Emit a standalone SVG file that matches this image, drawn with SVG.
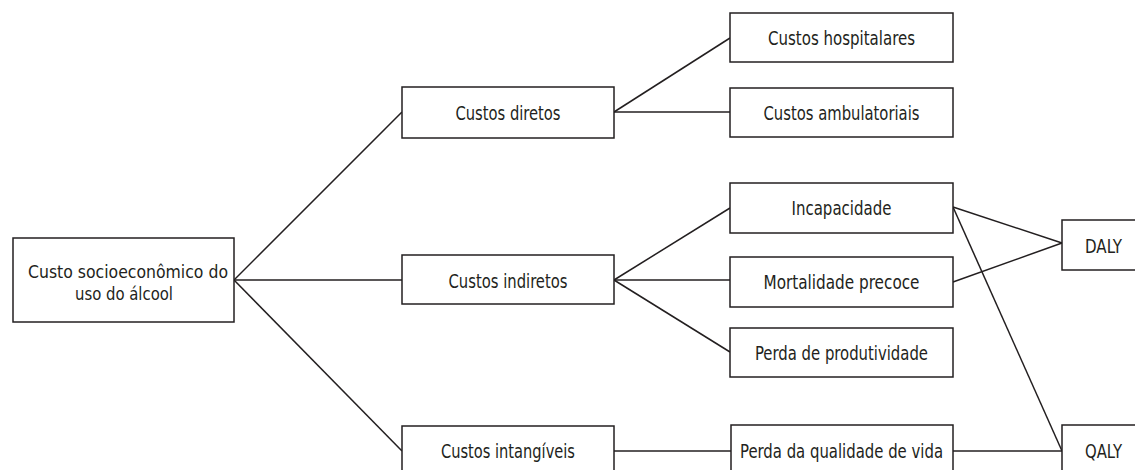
<svg xmlns="http://www.w3.org/2000/svg" width="1135" height="470" viewBox="0 0 1135 470">
<style>
.box{fill:#fff;stroke:#231f20;stroke-width:1.5}
.lbl{font-family:"Liberation Sans Narrow","DejaVu Sans Condensed","Roboto Condensed",sans-serif;font-stretch:condensed;font-size:19px;fill:#231f20;text-anchor:middle}
.big{font-size:18.5px}
.con line{stroke:#231f20;stroke-width:1.5}
</style>
<rect width="1135" height="470" fill="#fff"/>
<g class="con">
<line x1="234" y1="280" x2="402" y2="112"/>
<line x1="234" y1="280" x2="402" y2="280"/>
<line x1="234" y1="280" x2="402" y2="451"/>
<line x1="614" y1="112" x2="730" y2="38"/>
<line x1="614" y1="112" x2="730" y2="112"/>
<line x1="614" y1="280" x2="730" y2="208"/>
<line x1="614" y1="280" x2="730" y2="280"/>
<line x1="614" y1="280" x2="730" y2="352"/>
<line x1="614" y1="451" x2="731" y2="451"/>
<line x1="953" y1="207" x2="1062" y2="243"/>
<line x1="953" y1="282" x2="1062" y2="243"/>
<line x1="953" y1="207" x2="1062" y2="451"/>
<line x1="953" y1="451" x2="1062" y2="451"/>
</g>
<g id="custo-socioeconomico"><rect class="box" x="13" y="238" width="221" height="84"/><text class="lbl big" x="128" y="277.5" textLength="200" lengthAdjust="spacingAndGlyphs">Custo socioeconômico do</text><text class="lbl big" x="124" y="299.5" textLength="98" lengthAdjust="spacingAndGlyphs">uso do álcool</text></g>
<g id="custos-diretos"><rect class="box" x="402" y="87" width="212" height="51"/><text class="lbl" x="508" y="120" textLength="105" lengthAdjust="spacingAndGlyphs">Custos diretos</text></g>
<g id="custos-indiretos"><rect class="box" x="402" y="255" width="212" height="49"/><text class="lbl" x="508" y="288" textLength="119" lengthAdjust="spacingAndGlyphs">Custos indiretos</text></g>
<g id="custos-intangiveis"><rect class="box" x="402" y="426" width="212" height="51"/><text class="lbl" x="508" y="458" textLength="134" lengthAdjust="spacingAndGlyphs">Custos intangíveis</text></g>
<g id="custos-hospitalares"><rect class="box" x="730" y="13" width="223" height="49"/><text class="lbl" x="841.5" y="45" textLength="147" lengthAdjust="spacingAndGlyphs">Custos hospitalares</text></g>
<g id="custos-ambulatoriais"><rect class="box" x="730" y="88" width="223" height="49"/><text class="lbl" x="841.5" y="120" textLength="156" lengthAdjust="spacingAndGlyphs">Custos ambulatoriais</text></g>
<g id="incapacidade"><rect class="box" x="730" y="183" width="223" height="50"/><text class="lbl" x="841.5" y="215" textLength="100" lengthAdjust="spacingAndGlyphs">Incapacidade</text></g>
<g id="mortalidade-precoce"><rect class="box" x="730" y="257" width="223" height="50"/><text class="lbl" x="841.5" y="289" textLength="156" lengthAdjust="spacingAndGlyphs">Mortalidade precoce</text></g>
<g id="perda-produtividade"><rect class="box" x="730" y="328" width="223" height="49"/><text class="lbl" x="841.5" y="360" textLength="173" lengthAdjust="spacingAndGlyphs">Perda de produtividade</text></g>
<g id="perda-qualidade"><rect class="box" x="731" y="425" width="222" height="51"/><text class="lbl" x="841.5" y="458" textLength="203" lengthAdjust="spacingAndGlyphs">Perda da qualidade de vida</text></g>
<g id="daly"><rect class="box" x="1062" y="220" width="83" height="50"/><text class="lbl" x="1103.5" y="253" textLength="37" lengthAdjust="spacingAndGlyphs">DALY</text></g>
<g id="qaly"><rect class="box" x="1062" y="425" width="83" height="51"/><text class="lbl" x="1103.5" y="458" textLength="37" lengthAdjust="spacingAndGlyphs">QALY</text></g>
</svg>
